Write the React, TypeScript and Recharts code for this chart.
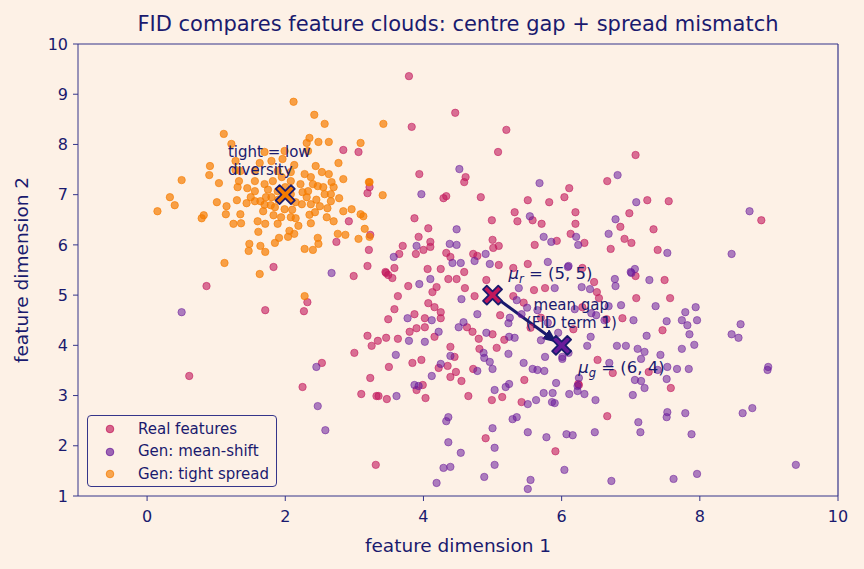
import {
  ReferenceDot,
  ReferenceLine,
  Scatter,
  ScatterChart,
  XAxis,
  YAxis,
} from "recharts";

// feature clouds, [dim1, dim2]
const realPts: [number, number][] = [
  [2.84, 7.89], [3.06, 7.85], [3.22, 7.15], [3.19, 7.03], [2.92, 6.47], [3.23, 6.2], [2.74, 6.06], [3.21, 5.9],
  [3.19, 5.58], [1.83, 5.56], [0.86, 5.18], [1.71, 4.7], [2.27, 4.68], [2.32, 4.86], [2.99, 5.38], [3.19, 4.19],
  [3.25, 3.99], [3.0, 3.85], [2.53, 3.65], [0.61, 3.39], [2.25, 3.17], [3.23, 3.35], [3.1, 3.03], [3.32, 2.99],
  [3.31, 1.62], [3.79, 9.36], [3.83, 8.35], [4.46, 8.63], [5.2, 8.29], [5.08, 7.85], [3.94, 7.41], [4.61, 7.35],
  [4.59, 7.25], [4.33, 6.97], [4.29, 6.93], [4.83, 6.95], [3.87, 6.53], [4.07, 6.33], [3.93, 6.16], [3.7, 5.98],
  [3.65, 5.82], [3.89, 5.82], [4.0, 5.9], [4.1, 6.06], [4.1, 5.96], [4.33, 5.84], [4.39, 5.76], [4.72, 5.82],
  [4.78, 5.78], [4.99, 6.49], [5.0, 6.1], [5.01, 5.94], [5.09, 5.98], [5.32, 6.65], [5.36, 6.47], [5.51, 6.89],
  [5.58, 6.49], [5.71, 6.42], [5.82, 6.85], [6.04, 6.95], [6.11, 7.13], [6.2, 6.65], [6.2, 6.42], [6.13, 6.22],
  [5.61, 6.0], [5.93, 6.08], [6.33, 6.04], [6.66, 7.27], [5.3, 5.54], [5.51, 5.62], [5.09, 5.6], [4.06, 5.52],
  [4.25, 5.52], [4.59, 5.46], [3.58, 5.54], [3.45, 5.46], [7.07, 7.79], [7.24, 6.89], [7.55, 6.87], [6.98, 6.63],
  [6.85, 6.36], [7.33, 6.31], [6.91, 6.12], [7.01, 6.04], [6.71, 5.92], [7.39, 5.9], [8.89, 6.49], [3.49, 5.4],
  [3.78, 5.18], [4.13, 5.06], [4.19, 5.16], [4.36, 5.32], [4.48, 5.32], [4.6, 5.14], [4.91, 5.3], [4.74, 4.98],
  [3.63, 4.98], [3.58, 4.72], [3.49, 4.52], [3.87, 4.62], [4.02, 4.54], [4.25, 4.66], [4.25, 4.54], [4.16, 4.76],
  [4.07, 4.84], [3.9, 4.34], [3.8, 4.27], [4.02, 4.36], [4.16, 4.17], [3.63, 4.13], [3.46, 4.15], [3.34, 4.09],
  [3.5, 3.57], [3.84, 3.65], [3.97, 3.71], [3.35, 2.99], [3.47, 2.93], [3.99, 3.21], [3.9, 3.11], [4.03, 2.95],
  [4.22, 3.55], [4.35, 3.59], [4.45, 3.77], [4.39, 3.97], [4.39, 3.37], [4.47, 3.47], [4.55, 3.29], [4.65, 2.99],
  [4.72, 3.53], [4.81, 3.93], [4.63, 4.36], [4.71, 4.27], [4.8, 4.13], [5.0, 4.22], [5.11, 4.6], [5.06, 3.95],
  [5.17, 4.11], [5.14, 2.97], [4.99, 2.91], [5.42, 2.87], [5.46, 3.31], [6.24, 3.23], [6.52, 3.71], [6.17, 4.32],
  [5.91, 1.89], [4.9, 2.15], [6.66, 2.59], [7.07, 5.38], [7.49, 5.3], [7.08, 4.94], [7.57, 4.94], [6.88, 4.54],
  [7.46, 4.3], [7.26, 3.47], [6.74, 3.45], [7.58, 3.15], [6.3, 5.54], [5.76, 5.14], [6.47, 5.26], [6.51, 5.06],
  [6.54, 4.94], [6.3, 4.76], [6.65, 4.52], [3.46, 5.44], [3.55, 5.34], [6.25, 3.21], [5.3, 4.98], [5.45, 4.85],
  [5.6, 5.1], [5.7, 4.55], [5.55, 4.35],
];

const shiftPts: [number, number][] = [
  [0.5, 4.66], [2.67, 5.44], [2.45, 3.57], [2.47, 2.79], [2.58, 2.31], [4.52, 7.51], [3.97, 7.01], [4.48, 6.31],
  [3.9, 5.98], [3.57, 5.76], [4.38, 6.02], [4.48, 6.0], [4.42, 5.64], [4.54, 5.64], [4.74, 5.68], [4.9, 5.82],
  [4.96, 5.62], [5.68, 7.23], [5.54, 6.57], [5.74, 6.16], [5.85, 6.06], [6.21, 6.16], [6.24, 6.0], [6.68, 6.22],
  [5.8, 5.66], [6.1, 5.58], [6.81, 7.39], [7.08, 6.85], [6.78, 6.51], [7.53, 5.84], [8.72, 6.67], [8.46, 5.82],
  [7.06, 5.52], [7.0, 5.46], [3.94, 5.22], [4.1, 5.32], [4.55, 4.92], [3.77, 4.54], [4.12, 4.5], [4.22, 4.27],
  [4.02, 4.07], [3.79, 4.09], [3.6, 3.81], [3.61, 2.99], [3.87, 3.21], [3.93, 3.19], [4.12, 3.39], [4.25, 3.63],
  [4.39, 3.79], [4.78, 3.49], [4.88, 3.75], [4.96, 3.67], [5.0, 3.53], [4.87, 3.85], [4.51, 4.36], [4.58, 4.46],
  [4.91, 4.25], [4.78, 4.62], [5.24, 4.17], [5.32, 4.15], [5.23, 4.44], [5.23, 3.83], [5.19, 3.17], [5.24, 3.23],
  [5.03, 3.11], [5.51, 2.83], [5.45, 3.65], [5.58, 3.53], [5.65, 3.51], [5.75, 3.49], [5.76, 3.77], [5.63, 2.91],
  [5.74, 3.05], [5.87, 3.05], [5.92, 3.25], [5.9, 2.85], [6.11, 3.03], [6.23, 3.19], [6.33, 3.03], [6.49, 2.91],
  [6.37, 3.99], [6.42, 4.17], [6.01, 3.77], [5.35, 2.57], [5.51, 2.27], [5.78, 2.17], [6.07, 2.23], [6.16, 2.21],
  [6.48, 2.27], [6.04, 1.52], [4.36, 2.57], [4.33, 2.49], [5.0, 2.35], [5.29, 2.53], [5.03, 1.96], [4.36, 2.07],
  [4.54, 1.86], [4.29, 1.56], [4.39, 1.58], [5.03, 1.62], [4.88, 1.38], [5.55, 1.32], [5.51, 1.14], [4.19, 1.26],
  [6.77, 5.32], [6.78, 5.18], [7.01, 5.44], [7.27, 5.3], [6.68, 4.78], [6.86, 4.8], [7.36, 4.78], [7.79, 4.66],
  [7.94, 4.76], [7.74, 4.5], [7.82, 4.4], [7.96, 4.5], [7.52, 4.48], [7.04, 4.5], [6.62, 4.5], [7.23, 4.19],
  [7.85, 4.22], [7.92, 4.01], [7.74, 3.93], [6.8, 3.99], [6.93, 3.99], [7.1, 3.93], [7.2, 3.87], [7.15, 3.73],
  [7.43, 3.81], [7.39, 3.51], [7.53, 3.57], [7.67, 3.53], [7.84, 3.53], [7.06, 3.31], [7.15, 3.29], [7.2, 3.15],
  [7.03, 3.01], [7.52, 3.33], [7.11, 2.47], [7.14, 2.27], [7.53, 2.67], [7.52, 2.57], [7.79, 2.65], [7.88, 2.23],
  [8.46, 4.22], [8.56, 4.15], [8.59, 4.42], [8.99, 3.57], [8.98, 3.51], [8.62, 2.65], [8.76, 2.75], [9.39, 1.62],
  [6.72, 1.3], [7.62, 1.34], [7.96, 1.44], [6.09, 5.56], [5.9, 5.14], [6.29, 5.16], [6.41, 5.12], [6.43, 4.64],
  [6.5, 4.6], [6.19, 4.72], [5.38, 5.14], [6.01, 3.73], [6.69, 3.65], [6.25, 3.35], [6.23, 3.09], [5.86, 2.87],
  [5.35, 4.9], [5.5, 4.75], [5.25, 4.55], [5.65, 4.7], [5.8, 4.45], [5.42, 4.62], [5.95, 4.25], [6.1, 3.85],
  [5.7, 4.1],
];

const tightPts: [number, number][] = [
  [2.12, 8.85], [2.42, 8.59], [2.57, 8.41], [1.11, 8.21], [1.22, 8.01], [2.35, 8.13], [2.31, 8.03], [2.48, 8.05],
  [2.63, 8.05], [3.09, 8.03], [0.91, 7.57], [0.9, 7.39], [0.5, 7.29], [1.04, 7.23], [0.33, 6.95], [0.4, 6.79],
  [0.15, 6.67], [1.01, 6.85], [1.15, 6.77], [1.14, 6.61], [0.82, 6.59], [0.79, 6.53], [1.25, 6.42], [1.35, 6.61],
  [1.36, 6.43], [1.61, 6.26], [1.48, 6.02], [1.47, 5.88], [1.64, 5.98], [1.71, 5.86], [1.85, 6.04], [1.91, 6.14],
  [1.12, 5.64], [2.28, 5.92], [2.4, 5.9], [2.48, 6.02], [2.47, 6.14], [2.76, 6.22], [2.87, 6.2], [3.06, 6.12],
  [3.15, 6.32], [3.09, 6.61], [3.13, 6.57], [2.96, 6.71], [2.84, 6.67], [2.7, 6.47], [2.6, 6.55], [2.61, 6.73],
  [2.78, 6.93], [3.21, 7.25], [2.84, 7.31], [2.77, 7.63], [2.44, 7.57], [2.53, 7.45], [2.63, 7.41], [2.13, 7.59],
  [1.96, 7.71], [1.8, 7.67], [1.63, 7.63], [1.28, 7.67], [1.28, 7.49], [1.33, 7.27], [1.45, 7.13], [1.56, 7.07],
  [1.64, 6.87], [1.44, 6.83], [1.3, 6.89], [1.68, 6.67], [1.79, 6.79], [1.83, 6.59], [1.71, 6.42], [1.89, 6.42],
  [2.06, 6.28], [2.15, 6.53], [2.19, 6.38], [2.37, 6.43], [2.43, 6.65], [2.5, 6.77], [2.31, 6.95], [2.24, 6.81],
  [1.99, 6.71], [2.33, 7.07], [2.4, 7.21], [2.47, 7.17], [2.67, 7.25], [2.7, 7.15], [2.57, 7.01], [2.22, 7.21],
  [2.08, 7.27], [1.82, 7.27], [1.7, 7.21], [1.56, 7.27], [1.89, 7.07], [2.08, 7.01], [1.72, 6.95], [1.56, 6.87],
  [1.31, 7.15], [1.35, 7.47], [1.56, 7.47], [1.89, 7.47], [2.08, 7.45], [2.28, 7.41], [2.37, 7.35], [1.99, 7.87],
  [1.7, 7.85], [2.33, 7.87], [2.66, 7.01], [2.66, 6.87], [2.37, 6.81], [2.08, 6.55], [1.94, 6.55], [1.6, 6.47],
  [2.04, 6.16], [2.13, 6.22], [2.28, 4.98], [3.42, 8.41], [3.41, 6.99], [3.22, 7.25], [3.22, 6.16], [1.63, 5.42],
  [1.75, 7.1], [1.9, 6.9], [2.0, 7.15], [2.15, 6.85], [1.85, 6.75], [2.25, 7.05], [1.7, 6.8], [2.45, 6.9],
  [1.95, 7.35], [2.1, 6.7], [1.5, 6.95], [2.55, 7.15], [1.8, 6.95], [2.35, 6.6],
];

// cloud centres
const centreX = [2, 5, 6];
const centreY = [7, 5, 4];

const xTicks = [0, 2, 4, 6, 8, 10];
const yTicks = [1, 2, 3, 4, 5, 6, 7, 8, 9, 10];

const BG = "#fdf1e6";
const NAVY = "#1a1a6e";
const SPINE = "#35358a";
const REAL = "#c2185b";
const SHIFT = "#6a1b9a";
const TIGHT = "#f57c00";
const FONT = "'DejaVu Sans', sans-serif";

const legendItems = [
  { name: "Real features", color: REAL },
  { name: "Gen: mean-shift", color: SHIFT },
  { name: "Gen: tight spread", color: TIGHT },
];

const toRows = (pts: [number, number][]) => pts.map(([x, y]) => ({ x, y }));

const dot = (color: string, op: number) => (p: any) => (
  <circle cx={p.cx} cy={p.cy} r={3.7} fill={color} fillOpacity={op} stroke={color} strokeOpacity={op + 0.1} strokeWidth={0.8} />
);

// filled "X" marker
const cross = (color: string) => (p: any) => {
  const s = 9.5;
  const t = 3.8;
  const pts = [
    [-s, -s + t], [-s + t, -s], [0, -t], [s - t, -s], [s, -s + t], [t, 0],
    [s, s - t], [s - t, s], [0, t], [-s + t, s], [-s, s - t], [-t, 0],
  ]
    .map(([a, b]) => `${p.cx + a},${p.cy + b}`)
    .join(" ");
  return <polygon points={pts} fill={color} stroke={NAVY} strokeWidth={1.8} strokeLinejoin="round" />;
};

const note = (lines: any[], anchor: "start" | "middle", size: number) => (p: any) => (
  <text x={p.cx} y={p.cy} fill={NAVY} fontSize={size} fontFamily={FONT} textAnchor={anchor}>
    {lines.map((l, i) => (
      <tspan key={i} x={p.cx} dy={i === 0 ? 0 : 18}>
        {l}
      </tspan>
    ))}
  </text>
);

const mu = (sub: string, rest: string) => (p: any) => (
  <text x={p.cx} y={p.cy} fill={NAVY} fontSize={16.5} fontFamily={FONT}>
    <tspan fontStyle="italic">μ</tspan>
    <tspan fontStyle="italic" fontSize={11.5} dy={4}>{sub}</tspan>
    <tspan dy={-4}>{rest}</tspan>
  </text>
);

const tickStyle = { fill: NAVY, fontSize: 16, fontFamily: FONT };

export default function App() {
  return (
    <div style={{ position: "absolute", left: 0, top: 0, width: 864, height: 569, background: BG }}>
      <div
        style={{
          position: "absolute",
          left: 78,
          top: 11,
          width: 760,
          textAlign: "center",
          fontFamily: FONT,
          fontSize: 21,
          lineHeight: "26px",
          color: NAVY,
        }}
      >
        FID compares feature clouds: centre gap + spread mismatch
      </div>
      <ScatterChart width={864} height={569} margin={{ top: 44, right: 26, left: 38, bottom: 43 }}>
        <defs>
          <marker id="gapHead" markerUnits="userSpaceOnUse" markerWidth={14} markerHeight={12} refX={13} refY={6} orient="auto">
            <path d="M0,0 L14,6 L0,12 z" fill={NAVY} />
          </marker>
        </defs>
        <XAxis
          type="number"
          dataKey="x"
          domain={[-1, 10]}
          ticks={xTicks}
          allowDataOverflow
          height={30}
          tick={tickStyle}
          tickSize={5}
          tickMargin={10}
          stroke={SPINE}
          label={{
            content: (p: any) => (
              <text x={p.viewBox.x + p.viewBox.width / 2} y={552} textAnchor="middle" fill={NAVY} fontSize={18.5} fontFamily={FONT}>
                feature dimension 1
              </text>
            ),
          }}
        />
        <YAxis
          type="number"
          dataKey="y"
          domain={[1, 10]}
          ticks={yTicks}
          allowDataOverflow
          width={40}
          tick={tickStyle}
          tickSize={5}
          tickMargin={5}
          stroke={SPINE}
          label={{
            content: (p: any) => {
              const cy = p.viewBox.y + p.viewBox.height / 2;
              return (
                <text x={28} y={cy} transform={`rotate(-90 28 ${cy})`} textAnchor="middle" fill={NAVY} fontSize={18.5} fontFamily={FONT}>
                  feature dimension 2
                </text>
              );
            },
          }}
        />
        <ReferenceLine y={10} stroke={SPINE} strokeWidth={1.2} />
        <ReferenceLine x={10} stroke={SPINE} strokeWidth={1.2} />
        <Scatter name="Real features" data={toRows(realPts)} shape={dot(REAL, 0.6)} isAnimationActive={false} />
        <Scatter name="Gen: mean-shift" data={toRows(shiftPts)} shape={dot(SHIFT, 0.55)} isAnimationActive={false} />
        <Scatter name="Gen: tight spread" data={toRows(tightPts)} shape={dot(TIGHT, 0.7)} isAnimationActive={false} />
        <ReferenceLine
          segment={[
            { x: centreX[1], y: centreY[1] },
            { x: centreX[2] - 0.08, y: centreY[2] + 0.07 },
          ]}
          stroke={NAVY}
          strokeWidth={3}
          markerEnd="url(#gapHead)"
        />
        <ReferenceDot x={centreX[0]} y={centreY[0]} shape={cross(TIGHT)} />
        <ReferenceDot x={centreX[1]} y={centreY[1]} shape={cross(REAL)} />
        <ReferenceDot x={centreX[2]} y={centreY[2]} shape={cross(SHIFT)} />
        <ReferenceDot x={1.17} y={7.75} shape={note(["tight = low", "diversity"], "start", 15)} />
        <ReferenceDot x={5.23} y={5.32} shape={mu("r", " = (5, 5)")} />
        <ReferenceDot x={6.14} y={4.7} shape={note(["mean gap", "(FID term 1)"], "middle", 15)} />
        <ReferenceDot x={6.24} y={3.45} shape={mu("g", " = (6, 4)")} />
      </ScatterChart>
      <div
        style={{
          position: "absolute",
          left: 87,
          top: 415,
          width: 190,
          height: 72,
          boxSizing: "border-box",
          border: `1.3px solid ${SPINE}`,
          borderRadius: 4,
          background: BG,
          fontFamily: FONT,
          fontSize: 15,
          color: NAVY,
          paddingTop: 2,
        }}
      >
        {legendItems.map((it) => (
          <div key={it.name} style={{ display: "flex", alignItems: "center", height: 22.5 }}>
            <svg width={50} height={12}>
              <circle cx={22} cy={6} r={3.8} fill={it.color} fillOpacity={0.65} stroke={it.color} strokeOpacity={0.75} />
            </svg>
            <span style={{ lineHeight: "15px" }}>{it.name}</span>
          </div>
        ))}
      </div>
    </div>
  );
}
